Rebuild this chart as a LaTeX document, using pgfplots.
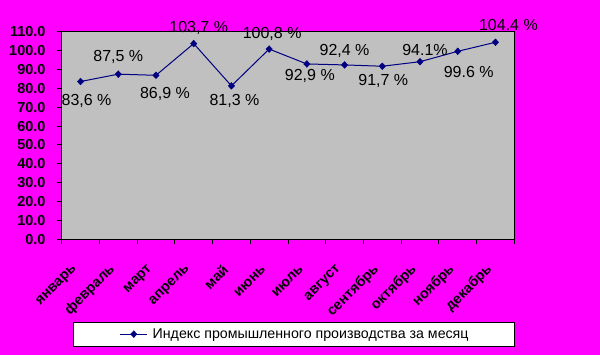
\documentclass[border=0pt]{standalone}
\usepackage{pgfplots}
\pgfplotsset{compat=1.18}
\usepackage{pgfplotstable}
\usepackage{fontspec}
\setmainfont{Liberation Sans}
\definecolor{bgmag}{HTML}{FF00FF}
\definecolor{plotgray}{HTML}{C0C0C0}
\definecolor{navyline}{HTML}{000080}

\pgfplotstableread{
x y dx dy lab
0.5 83.6 6 -19 {83,6 \%}
1.5 87.5 0 17 {87,5 \%}
2.5 86.9 9 -19 {86,9 \%}
3.5 103.7 5 16 {103,7 \%}
4.5 81.3 3 -15 {81,3 \%}
5.5 100.8 3 15 {100,8 \%}
6.5 92.9 3 -12 {92,9 \%}
7.5 92.4 0 14 {92,4 \%}
8.5 91.7 1 -15 {91,7 \%}
9.5 94.1 5 12 {94.1\%}
10.5 99.6 11 -21 {99.6 \%}
11.5 104.4 13 17 {104.4 \%}
}\datatable

\begin{document}
\begin{tikzpicture}
\fill[bgmag] (0,0) rectangle (600bp,355bp);
\useasboundingbox (0,0) rectangle (600bp,355bp);
\begin{axis}[
  scale only axis,
  width=452.6bp, height=207.6bp,
  at={(61.7bp,115.7bp)}, anchor=south west,
  xmin=0, xmax=12, ymin=0, ymax=110,
  clip=false,
  axis background/.style={fill=plotgray},
  axis line style={black, line width=1bp},
  every tick/.style={black, line width=1bp},
  tick align=outside, tick pos=left,
  major tick length=5bp,
  xtick={0,1,...,12},
  x tick label as interval,
  xticklabels={январь,февраль,март,апрель,май,июнь,июль,август,сентябрь,октябрь,ноябрь,декабрь},
  xticklabel style={font=\bfseries\fontsize{14.3bp}{16bp}\selectfont, inner sep=0pt, xshift=-5.6bp, yshift=-23bp, rotate=45, anchor=east},
  ytick={0,10,...,110},
  yticklabels={0.0,10.0,20.0,30.0,40.0,50.0,60.0,70.0,80.0,90.0,100.0,110.0},
  yticklabel style={font=\bfseries\fontsize{14.5bp}{16bp}\selectfont, inner sep=0pt, anchor=east, xshift=-11bp},
  legend style={at={(axis description cs:0.0256,-0.3969)}, anchor=north west,
    draw=black, line width=1bp, fill=white, inner xsep=0pt, inner ysep=6.3bp,
    nodes={inner sep=0pt},
    font=\fontsize{14.2bp}{16bp}\selectfont},
  legend image code/.code={
    \path[draw=none,fill=none] (-46.7bp,0bp) rectangle (0bp,0.1bp);
    \draw[mark repeat=2,mark phase=2,#1] plot coordinates {(0bp,0bp) (13.3bp,0bp) (26.7bp,0bp)};
  },
]
\addplot[navyline, line width=1bp, mark=diamond*, mark size=3.4bp,
  mark options={fill=navyline, draw=navyline, line width=0.4bp, xscale=1.25},
  point meta=explicit symbolic,
  visualization depends on={\thisrow{dx}\as\dx},
  visualization depends on={\thisrow{dy}\as\dy},
  nodes near coords,
  every node near coord/.append style={black, anchor=center, inner sep=0pt,
    xshift=\dx*1bp, yshift=\dy*1bp, font=\fontsize{16bp}{18bp}\selectfont},
] table[x=x, y=y, meta=lab] {\datatable};
\addlegendentry{\makebox[367bp][l]{\hspace{5bp}Индекс промышленного производства за месяц}}
\end{axis}
\end{tikzpicture}
\end{document}
